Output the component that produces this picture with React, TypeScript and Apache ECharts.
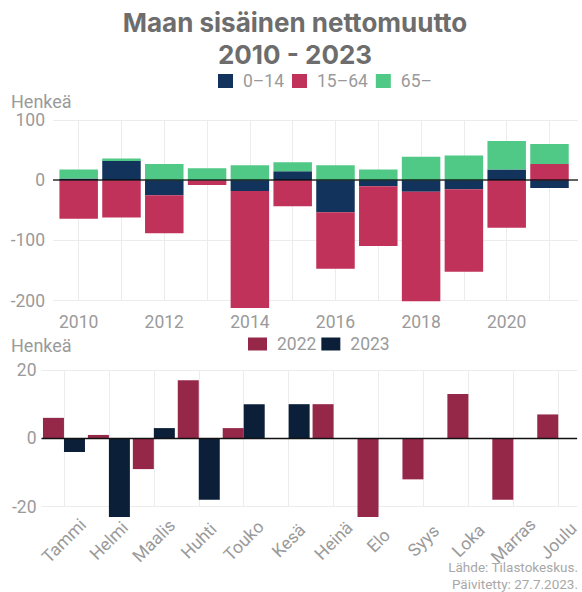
import React, { useEffect, useRef } from 'react';
import * as echarts from 'echarts';

// ---- Top chart data (net internal migration by age group) ----
const years = [2010, 2011, 2012, 2013, 2014, 2015, 2016, 2017, 2018, 2019, 2020, 2021];
const age0to14 = [3, 32, -25, 0, -18, 15, -53, -10, -19, -15, 18, -13];
const age15to64 = [-64, -62, -63, -8, -194, -43, -94, -99, -182, -137, -79, 27];
const age65plus = [15, 4, 27, 20, 25, 15, 25, 18, 39, 41, 47, 33];
const ageNames = ['0–14', '15–64', '65–'];

// ---- Bottom chart data (monthly, 2022 vs 2023) ----
const months = ['Tammi', 'Helmi', 'Maalis', 'Huhti', 'Touko', 'Kesä', 'Heinä', 'Elo', 'Syys', 'Loka', 'Marras', 'Joulu'];
const net2022 = [6, 1, -9, 17, 3, 0, 10, -23, -12, 13, -18, 7];
const net2023 = [-4, -23, 3, -18, 10, 10, null, null, null, null, null, null];
const yearNames = ['2022', '2023'];

const FONT = 'Roboto, "Noto Sans", sans-serif';
const TFONT = 'Inter, Roboto, sans-serif';
const LABEL = '#9a9a9a';
const GRIDC = '#ececec';
const T = 'rgba(0,0,0,0)';
const FS = 17.5;

const isInt = (v: number) => Math.abs(v - Math.round(v)) < 1e-6;

export default function App() {
  const ref = useRef<HTMLDivElement>(null);
  useEffect(() => {
    document.body.style.margin = '0';
    const chart = echarts.init(ref.current!, null, { renderer: 'svg' });
    // value first, position second (so that the library stacks the value dimension)
    const pairs = (xs: number[], ys: (number | null)[]) => xs.map((x, i) => [ys[i], x]);
    const monthIdx = months.map((_, i) => i);
    const topColors = ['#12335b', '#c1325a', '#51c986'];
    const topSeries = [age0to14, age15to64, age65plus].map((vals, k) => ({
      name: ageNames[k],
      type: 'bar',
      stack: 'age',
      xAxisIndex: 0,
      yAxisIndex: 0,
      encode: { x: 1, y: 0 },
      barWidth: 38.5,
      clip: false,
      itemStyle: { color: topColors[k] },
      emphasis: { disabled: true },
      data: pairs(years, vals),
      markLine: k === 2 ? {
        silent: true,
        symbol: ['none', 'none'],
        label: { show: false },
        lineStyle: { color: 'rgba(0,0,0,0.6)', width: 2, type: 'solid' },
        data: [{ yAxis: 0 }],
      } : undefined,
    }));
    const botColors = ['#952849', '#0c1f38'];
    const botSeries = [net2022, net2023].map((vals, k) => ({
      name: yearNames[k],
      type: 'bar',
      xAxisIndex: 1,
      yAxisIndex: 1,
      encode: { x: 1, y: 0 },
      barWidth: 21,
      barGap: '0%',
      clip: false,
      itemStyle: { color: botColors[k] },
      emphasis: { disabled: true },
      data: pairs(monthIdx, vals),
      markLine: k === 1 ? {
        silent: true,
        symbol: ['none', 'none'],
        label: { show: false },
        lineStyle: { color: '#111', width: 1.3, type: 'solid' },
        data: [{ yAxis: 0 }],
      } : undefined,
    }));

    chart.setOption({
      animation: false,
      textStyle: { fontFamily: FONT },
      title: [
        {
          text: 'Maan sisäinen nettomuutto\n2010 - 2023',
          left: 295, top: 6, textAlign: 'center', padding: 0,
          textStyle: { fontFamily: TFONT, fontSize: 26, lineHeight: 32, fontWeight: 'bold', color: '#6d6d6d', align: 'center' },
        },
        {
          text: 'Henkeä', left: 11, top: 92, padding: 0,
          textStyle: { fontFamily: FONT, fontSize: 18, fontWeight: 'normal', color: LABEL },
        },
        {
          text: 'Henkeä', left: 11, top: 336, padding: 0,
          textStyle: { fontFamily: FONT, fontSize: 18, fontWeight: 'normal', color: LABEL },
        },
        {
          text: 'Lähde: Tilastokeskus.\nPäivitetty: 27.7.2023.',
          left: 578, top: 558, textAlign: 'right', padding: 0,
          textStyle: { fontFamily: FONT, fontSize: 13.5, fontWeight: 'normal', color: '#a8a8a8', lineHeight: 17 },
        },
      ],
      legend: [
        {
          data: ageNames, left: 218, top: 72, icon: 'rect', padding: 0,
          itemWidth: 15, itemHeight: 14, itemGap: 8,
          textStyle: { fontFamily: FONT, fontSize: FS, color: LABEL, padding: [0, 0, 0, 5] },
          selectedMode: false,
        },
        {
          data: yearNames, left: 248, top: 335, icon: 'rect', padding: 0,
          itemWidth: 19, itemHeight: 13, itemGap: 5,
          textStyle: { fontFamily: FONT, fontSize: FS, color: LABEL, padding: [0, 0, 0, 5] },
          selectedMode: false,
        },
      ],
      grid: [
        { left: 53, top: 120, width: 525, height: 180.7 },
        { left: 41.5, top: 370, width: 536.5, height: 136.7 },
      ],
      xAxis: [
        {
          type: 'value', gridIndex: 0, min: 2009.4, max: 2021.666, interval: 0.2,
          axisLine: { show: false }, axisTick: { show: false },
          axisLabel: {
            color: LABEL, fontSize: FS, margin: 12, fontFamily: FONT,
            showMinLabel: false, showMaxLabel: false,
            formatter: (v: number) => (isInt(v) && Math.round(v) % 2 === 0 ? String(Math.round(v)) : ''),
          },
          splitLine: { show: true, lineStyle: { color: [T, T, T, GRIDC, T], width: 1 } },
        },
        {
          type: 'value', gridIndex: 1, min: -0.5, max: 11.42, interval: 0.5,
          axisLine: { show: false }, axisTick: { show: false },
          axisLabel: {
            color: LABEL, fontSize: FS, fontFamily: FONT, rotate: 45, align: 'center', verticalAlign: 'middle',
            margin: 34, showMinLabel: false, showMaxLabel: false,
            formatter: (v: number) => (isInt(v) ? months[Math.round(v)] ?? '' : ''),
          },
          splitLine: { show: true, lineStyle: { color: [T, GRIDC], width: 1 } },
        },
      ],
      yAxis: [
        {
          type: 'value', gridIndex: 0, min: -200, max: 100, interval: 100,
          axisLine: { show: false }, axisTick: { show: false },
          axisLabel: { color: LABEL, fontSize: FS, margin: 8, fontFamily: FONT },
          splitLine: { show: true, lineStyle: { color: GRIDC, width: 1 } },
        },
        {
          type: 'value', gridIndex: 1, min: -20, max: 20, interval: 20,
          axisLine: { show: false }, axisTick: { show: false },
          axisLabel: { color: LABEL, fontSize: FS, margin: 5, fontFamily: FONT },
          splitLine: { show: true, lineStyle: { color: GRIDC, width: 1 } },
        },
      ],
      series: [...topSeries, ...botSeries],
    });
    return () => chart.dispose();
  }, []);
  return <div ref={ref} style={{ width: 582, height: 592 }} />;
}
